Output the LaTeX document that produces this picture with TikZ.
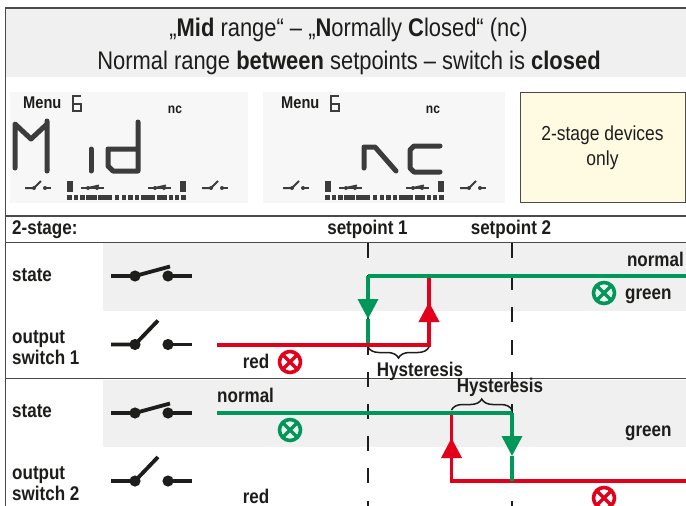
\documentclass[tikz,border=0pt]{standalone}
\usepackage{fontspec}
\setmainfont[FakeStretch=0.86]{Liberation Sans}
\usetikzlibrary{arrows.meta}
\usetikzlibrary{decorations.pathreplacing}
\definecolor{txtdark}{HTML}{1D1D1B}
\definecolor{framegray}{HTML}{4A4A4A}
\definecolor{bandgray}{HTML}{F0F0F0}
\definecolor{lcdback}{HTML}{F6F7F6}
\definecolor{lcdseg}{HTML}{3C3C3C}
\definecolor{noteyellow}{HTML}{FFFBE3}
\definecolor{stategreen}{HTML}{00975A}
\definecolor{statered}{HTML}{E2001A}
% small symbols along the lower edge of the display
\newcommand{\lcdicons}{%
	\foreach \xa in {25,202} {
		\draw[lcdicon] (\xa,188) -- ++(9,0) -- ++(7,-7);
		\draw[lcdicon] (\xa+20,188) -- ++(6,0);
		\fill[lcdseg] (\xa+20,188) circle (2) (\xa+9,188) circle (2);
	}
	\foreach \xa in {81,148} {
		\draw[lcdicon] (\xa,188) -- ++(23,0);
		\draw[lcdicon] (\xa+7,188) -- ++(11,-2.5);
		\fill[lcdseg] (\xa+7,188) circle (2) (\xa+16,188) circle (2);
	}
	\foreach \xa in {67,180} {
		\fill[lcdseg] (\xa,181) rectangle ++(6,11);
	}
	\foreach \xa/\xb in {67/71.5,74/78,80/85,86/97,98/112,115/119,122/126,128/133,135/139,141/155,157/167,169/173,175/179,181/186} {
		\fill[lcdseg] (\xa,195) rectangle (\xb,200);
	}
}
% menu line of the display
\newcommand{\lcdmenu}[2]{%
	\node[menutext] (#2menu) at (23,108) {Menu};
	\node[nctext] (#2nc) at (175,113) {nc};
	\draw[lcdsix] (81,96) -- (73,96) -- (73,111) -- (81,111) -- (81,104) -- (73,104);
}
\begin{document}
\begin{tikzpicture}[x=1pt,y=-1pt]
	\tikzset{titletext/.style = {anchor=base,text=txtdark,font=\fontsize{25.5}{30}\selectfont}}
	\tikzset{boldtext/.style = {anchor=base west,text=txtdark,inner sep=0pt,font=\fontsize{19.8}{24}\selectfont\bfseries}}
	\tikzset{boldmid/.style = {boldtext,anchor=base}}
	\tikzset{menutext/.style = {anchor=base west,text=txtdark,inner sep=0pt,font=\fontsize{17}{20}\selectfont\bfseries}}
	\tikzset{nctext/.style = {anchor=base,text=txtdark,inner sep=0pt,font=\fontsize{14}{17}\selectfont\bfseries}}
	\tikzset{lcdicon/.style = {lcdseg,line width=2pt}}
	\tikzset{lcdsix/.style = {lcdseg,line width=1.4pt}}
	\tikzset{lcdbig/.style = {lcdseg,line width=5pt,line cap=round,line join=round}}
	\tikzset{frameline/.style = {framegray,line width=1.4pt}}
	\tikzset{setline/.style = {txtdark,line width=2.2pt,dash pattern=on 15pt off 17.2pt}}
	\tikzset{switchline/.style = {txtdark,line width=3.8pt}}
	\tikzset{greenline/.style = {stategreen,line width=3.6pt}}
	\tikzset{redline/.style = {statered,line width=3.6pt}}
	\tikzset{greentip/.style = {greenline,-{Triangle[length=20pt,width=20pt]}}}
	\tikzset{redtip/.style = {redline,-{Triangle[length=20pt,width=20pt]}}}
	\tikzset{hystbrace/.style = {txtdark,line width=1.5pt,decorate,decoration={brace,amplitude=11pt}}}
	\tikzset{lamp/.style = {shape=circle,draw,line width=3.6pt,minimum size=21pt,inner sep=0pt,
			path picture={\draw[line width=3.2pt] (path picture bounding box.north west) -- (path picture bounding box.south east)
				(path picture bounding box.north east) -- (path picture bounding box.south west);}}}

	\clip (0,0) rectangle (686,506);
	\fill[white] (0,0) rectangle (686,506);

	% bands
	\fill[bandgray] (5,8) rectangle (686,77);
	\fill[bandgray] (103,243) rectangle (686,311);
	\fill[bandgray] (103,380) rectangle (686,447);
	\fill[lcdback] (10,92) rectangle (248,203);
	\fill[lcdback] (263,92) rectangle (505,203);

	% frame
	\draw[frameline] (686,8) -- (5.5,8) -- (5.5,506);
	\draw[frameline] (5,216) -- (686,216);
	\draw[frameline] (5,242.5) -- (686,242.5);
	\draw[frameline] (5,378.5) -- (686,378.5);

	% title
	\node[titletext] (title1) at (348.5,36) {„\textbf{Mid} range“ – „\textbf{N}ormally \textbf{C}losed“ (nc)};
	\node[titletext] (title2) at (349,69) {Normal range \textbf{between} setpoints – switch is \textbf{closed}};

	% display Mid
	\lcdmenu{6}{a}
	\lcdicons
	\draw[lcdbig] (15,168) -- (15,124) -- (31,139) -- (47,124) (47,121) -- (47,171);
	\draw[lcdbig] (91,149) -- (91,171);
	\draw[lcdbig] (138,122) -- (138,171) -- (113,171) -- (108,166) -- (108,149) -- (136,149);

	% display NC
	\begin{scope}[xshift=258pt]
		\lcdmenu{6}{b}
		\lcdicons
		\draw[lcdbig] (106,168) -- (106,147) -- (117,147) -- (138,171);
		\draw[lcdbig] (182,146) -- (156,146) -- (152,150) -- (152,168) -- (156,172) -- (182,172);
	\end{scope}

	% note
	\node[shape=rectangle,draw=framegray,line width=1.4pt,fill=noteyellow,minimum width=165pt,minimum height=110pt,anchor=north west] (note) at (520,92) {};
	\node[anchor=base,text=txtdark,font=\fontsize{20.3}{24}\selectfont] (note1) at (602.5,140) {2-stage devices};
	\node[anchor=base,text=txtdark,font=\fontsize{20.3}{24}\selectfont] (note2) at (602.5,165) {only};

	% labels
	\node[boldtext] (stage) at (12,234) {2-stage:};
	\node[boldmid] (sp1) at (367.5,234) {setpoint 1};
	\node[boldmid] (sp2) at (511,234) {setpoint 2};
	\node[boldtext] (state1) at (12,281) {state};
	\node[boldtext] (out1a) at (12,343) {output};
	\node[boldtext] (out1b) at (12,364) {switch 1};
	\node[boldtext] (state2) at (12,417) {state};
	\node[boldtext] (out2a) at (12,479) {output};
	\node[boldtext] (out2b) at (12,500) {switch 2};
	\node[boldtext,anchor=base east] (normal1) at (684,266) {normal};
	\node[boldtext] (green1) at (625,299) {green};
	\node[boldmid] (red1) at (256,368) {red};
	\node[boldtext] (normal2) at (217,402) {normal};
	\node[boldtext] (green2) at (625,436) {green};
	\node[boldmid] (red2) at (256,503) {red};
	\node[boldmid] (hyst1) at (420,376) {Hysteresis};
	\node[boldmid] (hyst2) at (500,392) {Hysteresis};

	% setpoints
	\coordinate (s1top) at (368,243);
	\coordinate (s1bot) at (368,506);
	\coordinate (s2top) at (512,243);
	\coordinate (s2bot) at (512,506);
	\draw[setline] (s1top) -- (s1bot);
	\draw[setline] (s2top) -- (s2bot);

	% switches
	\foreach \ya in {276,413} {
		\draw[switchline] (111,\ya) -- (135,\ya) -- (170,\ya-9.5);
		\draw[switchline] (168,\ya) -- (192,\ya);
		\fill[txtdark] (135,\ya) circle (5.6) (168,\ya) circle (5.6);
	}
	\foreach \ya in {344.5,481} {
		\draw[switchline] (111,\ya) -- (135,\ya) -- (158,\ya-24);
		\draw[switchline] (163,\ya) -- (192,\ya);
		\fill[txtdark] (135,\ya) circle (5.6) (168,\ya) circle (5.6);
	}

	% switch 1
	\coordinate (r1a) at (217,345);
	\coordinate (r1b) at (429,345);
	\coordinate (r1c) at (429,302);
	\coordinate (r1d) at (429,276);
	\coordinate (g1a) at (686,276);
	\coordinate (g1b) at (368,276);
	\coordinate (g1c) at (368,319);
	\coordinate (g1d) at (368,345);
	\draw[greenline] (g1c) -- (g1d);
	\draw[redline,line join=miter] (r1a) -- (r1b) -- (r1c);
	\draw[redtip] (r1b) -- (r1c);
	\draw[redline] (r1c) -- (r1d);
	\draw[greenline] (g1a) -- (g1b);
	\draw[greentip] (g1b) -- (g1c);
	\draw[hystbrace,decoration={mirror}] (368,347) -- (429,347);

	% switch 2
	\coordinate (g2a) at (217,413);
	\coordinate (g2b) at (512,413);
	\coordinate (g2c) at (512,456);
	\coordinate (g2d) at (512,481);
	\coordinate (r2a) at (686,481);
	\coordinate (r2b) at (451.5,481);
	\coordinate (r2c) at (451.5,438);
	\coordinate (r2d) at (451.5,413);
	\draw[redline] (r2a) -- (r2b) -- (r2d);
	\draw[redtip] (r2b) -- (r2c);
	\draw[greenline] (g2a) -- (g2b);
	\draw[greentip] (g2b) -- (g2c);
	\draw[greenline] (g2c) -- (g2d);
	\draw[hystbrace] (451.5,410) -- (512,410);

	% lamps
	\node[lamp,stategreen] (lampg1) at (604,293) {};
	\node[lamp,statered] (lampr1) at (290,362) {};
	\node[lamp,stategreen] (lampg2) at (290,430) {};
	\node[lamp,statered] (lampr2) at (604,498) {};
\end{tikzpicture}
\end{document}
